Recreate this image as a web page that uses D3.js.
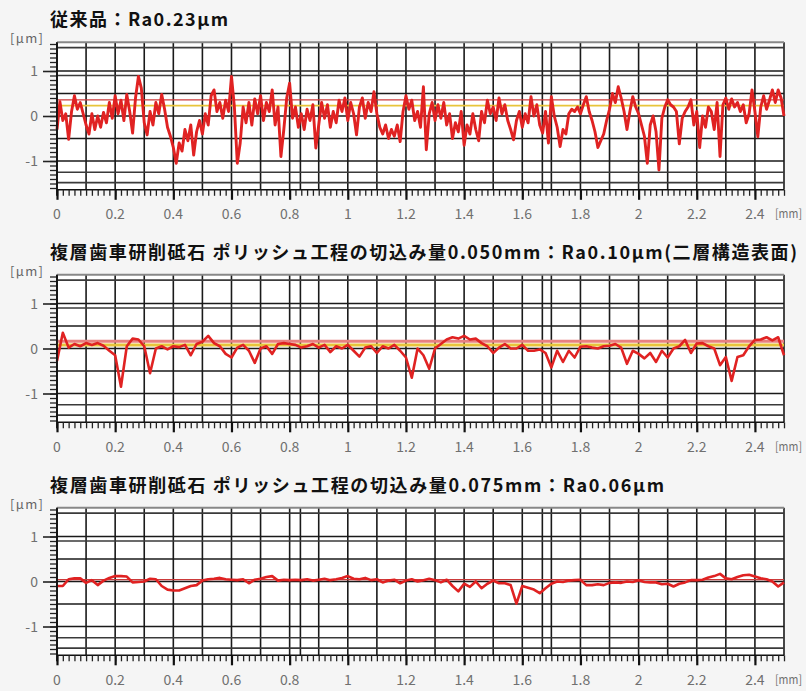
<!DOCTYPE html>
<html>
<head>
<meta charset="utf-8">
<script src="https://cdn.jsdelivr.net/npm/d3@7"></script>
<style>
body { margin: 0; background: #f5f5f5; }
svg { display: block; }
</style>
</head>
<body>
<div id="chart"></div>
<script>

// panel titles
var titles = [
	'従来品：Ra0.23μm',
	'複層歯車研削砥石 ポリッシュ工程の切込み量0.050mm：Ra0.10μm(二層構造表面)',
	'複層歯車研削砥石 ポリッシュ工程の切込み量0.075mm：Ra0.06μm'
];

// x axis labels [mm] and y axis labels [μm]
var xTickLabels = ['0', '0.2', '0.4', '0.6', '0.8', '1', '1.2', '1.4', '1.6', '1.8', '2', '2.2', '2.4'];
var yTickLabels = ['1', '0', '-1'];
var xMax = 2.5;

// profile heights [μm], evenly sampled from 0 to 2.5 mm
var profile1 = [
	-0.30, 0.32, -0.10, 0.05, -0.52, 0.10, 0.45, 0.15, 0.30, 0.05, -0.20,
	-0.40, 0.05, -0.30, 0.00, -0.25, 0.08, -0.15, 0.30, -0.05, 0.45,
	0.05, 0.35, -0.10, 0.48, 0.10, -0.38, 0.40, 0.88, 0.62, -0.15,
	-0.42, 0.10, -0.20, 0.30, 0.05, 0.48, 0.15, -0.25, -0.45, -0.70,
	-1.05, -0.60, -0.78, -0.30, -0.55, -0.20, -0.87, -0.35, -0.10, -0.40,
	0.05, -0.20, 0.45, 0.58, 0.10, 0.30, -0.05, 0.35, 0.10, 0.88,
	0.20, -1.05, -0.60, 0.20, -0.15, 0.30, -0.20, 0.38, 0.05, 0.45,
	-0.10, 0.30, 0.10, 0.58, -0.20, 0.20, -0.90, -0.30, 0.40, 0.73,
	-0.05, 0.20, -0.25, 0.05, -0.30, 0.15, -0.10, 0.25, -0.71, -0.20,
	0.30, -0.05, 0.25, -0.25, 0.10, -0.15, 0.35, 0.10, 0.40, -0.10,
	0.30, 0.05, -0.42, 0.20, 0.40, -0.05, 0.30, 0.10, 0.54, 0.05,
	-0.25, -0.40, -0.20, -0.50, -0.30, -0.45, -0.20, -0.57, 0.10, 0.45,
	0.15, 0.35, -0.10, 0.10, -0.25, 0.65, -0.75, 0.05, 0.30, -0.10,
	0.25, -0.05, 0.30, -0.20, 0.05, -0.50, -0.15, -0.35, 0.10, -0.65,
	-0.20, -0.40, 0.05, -0.30, -0.55, 0.10, -0.15, 0.35, 0.05, 0.20,
	-0.10, 0.40, 0.05, 0.25, -0.10, -0.30, -0.53, -0.10, 0.10, -0.25,
	0.05, -0.15, 0.43, 0.00, 0.25, -0.20, -0.38, 0.10, -0.60, 0.43,
	0.00, -0.25, -0.68, -0.30, -0.40, 0.05, 0.15, 0.10, 0.20, 0.05,
	0.25, 0.43, 0.10, -0.10, -0.35, -0.70, -0.55, -0.40, -0.10, 0.15,
	0.50, 0.30, 0.65, 0.40, 0.10, -0.30, 0.10, 0.43, 0.20, 0.05,
	-0.20, -0.45, -1.05, -0.20, 0.00, -0.35, -1.20, -0.05, 0.20, 0.36,
	0.25, 0.20, 0.10, -0.62, -0.05, 0.10, 0.20, 0.36, -0.20, 0.10,
	-0.70, 0.00, -0.25, 0.20, 0.10, -0.30, 0.30, -0.90, 0.25, 0.40,
	0.15, 0.38, 0.20, 0.30, 0.10, 0.25, -0.15, 0.05, 0.58, 0.10,
	-0.46, 0.20, 0.45, 0.15, 0.35, 0.58, 0.30, 0.58, 0.40, 0.00
];

var profile2 = [
	-0.28, 0.35, 0.02, 0.10, 0.05, 0.12, 0.08, 0.12, 0.06, -0.05,
	-0.15, -0.85, 0.05, 0.22, 0.20, 0.05, -0.55, 0.00, 0.05, -0.02,
	0.05, 0.03, 0.08, -0.15, 0.10, 0.15, 0.28, 0.12, 0.05, -0.12,
	-0.20, 0.02, 0.08, -0.05, -0.32, 0.00, 0.05, -0.12, 0.10, 0.12,
	0.10, 0.08, 0.02, 0.05, 0.10, 0.02, 0.08, -0.08, 0.05, 0.00,
	0.08, -0.05, -0.18, 0.02, 0.05, -0.10, 0.05, 0.00, 0.08, -0.05,
	-0.20, -0.65, 0.00, -0.15, -0.45, 0.00, 0.10, 0.20, 0.25, 0.22,
	0.28, 0.20, 0.22, 0.12, 0.05, -0.10, 0.02, 0.10, 0.00, 0.00,
	0.08, -0.05, -0.05, -0.02, -0.10, -0.42, -0.05, -0.30, -0.05, -0.20,
	0.04, 0.05, 0.02, 0.00, 0.05, 0.06, 0.10, 0.02, -0.34, -0.05,
	-0.12, -0.22, -0.10, -0.30, -0.05, -0.20, 0.00, 0.05, 0.19, -0.10,
	0.11, 0.12, 0.05, 0.00, -0.37, -0.19, -0.72, -0.19, -0.15, 0.05,
	0.19, 0.20, 0.25, 0.18, 0.25, -0.15
];

var profile3 = [
	-0.10, -0.10, 0.05, 0.07, 0.07, -0.03, 0.03, -0.08, 0.02, 0.08,
	0.12, 0.12, 0.11, -0.02, -0.01, 0.00, 0.06, 0.05, -0.10, -0.18,
	-0.20, -0.20, -0.15, -0.10, -0.08, 0.02, 0.05, 0.06, 0.08, 0.05,
	0.04, 0.03, 0.05, -0.04, 0.04, 0.06, 0.10, 0.12, 0.02, 0.04,
	0.03, 0.04, 0.03, 0.05, 0.02, 0.04, 0.06, 0.03, 0.05, 0.08,
	0.12, 0.06, 0.05, 0.08, 0.03, 0.05, -0.02, 0.02, 0.04, -0.04,
	0.02, 0.05, 0.00, 0.03, 0.06, 0.03, -0.02, 0.04, -0.10, -0.22,
	-0.05, -0.12, 0.00, -0.15, -0.05, 0.02, -0.04, -0.04, -0.08, -0.49,
	-0.10, -0.14, -0.18, -0.26, -0.15, -0.05, 0.00, -0.01, 0.02, 0.03,
	0.04, -0.08, -0.08, -0.06, -0.08, -0.03, -0.02, -0.03, 0.00, -0.01,
	0.03, -0.01, -0.02, -0.02, -0.06, -0.05, -0.11, -0.05, -0.02, 0.03,
	0.03, 0.04, 0.09, 0.12, 0.17, 0.07, 0.05, 0.10, 0.14, 0.15,
	0.11, 0.07, 0.05, 0.00, -0.11, -0.02
];

var profiles = [profile1, profile2, profile3];

// reference lines [μm] (red and yellow), null = none
var refRed = [0.36, 0.16, 0.04];
var refYellow = [0.23, 0.08, null];

// grid lines inside plot
var gridXExtra = [0.837, 1.669];
var gridY = [1.52, 1.0, 0.9, 0.5, 0, -0.5, -1.0, -1.25, -1.48];

var width = 806, height = 691;
var plotLeft = 57, plotRight = 784;
var zeroY = [116, 348.5, 581.5];
var halfH = 73.8;
var titleWidths = [178, 747, 614];

var svg = d3.select('#chart')
	.append('svg')
	.attr('width', width)
	.attr('height', height);

var font = '"Noto Sans CJK JP", "Noto Sans", sans-serif';

var x = d3.scaleLinear().domain([0, xMax]).range([plotLeft, plotRight]);

function drawPanel(p) {
	var z = zeroY[p];
	var y = d3.scaleLinear().domain([-1.64, 1.64]).range([z + halfH, z - halfH]);
	var g = svg.append('g');
	var top = y(1.64), bottom = y(-1.64);

	// title
	g.append('text')
		.attr('x', 50)
		.attr('y', z - 90)
		.attr('font-family', font)
		.attr('font-weight', 700)
		.attr('font-size', 18)
		.attr('fill', '#111')
		.attr('textLength', titleWidths[p])
		.attr('lengthAdjust', 'spacing')
		.text(titles[p]);

	// unit label
	g.append('text')
		.attr('x', 10)
		.attr('y', top + 1)
		.attr('font-family', font)
		.attr('font-size', 13)
		.attr('fill', '#666')
		.attr('textLength', 33)
		.attr('lengthAdjust', 'spacing')
		.text('[μm]');

	// plot background
	g.append('rect')
		.attr('x', plotLeft)
		.attr('y', top)
		.attr('width', plotRight - plotLeft)
		.attr('height', bottom - top)
		.attr('fill', '#fff');

	// vertical grid
	var vx = d3.range(0, 26).map(function(i) { return i / 10; }).concat(gridXExtra);
	g.selectAll('line.vg')
		.data(vx)
		.enter()
		.append('line')
		.attr('x1', function(d) { return x(d); })
		.attr('x2', function(d) { return x(d); })
		.attr('y1', top)
		.attr('y2', bottom)
		.attr('stroke', '#1a1a1a')
		.attr('stroke-width', 1.6);

	// horizontal grid
	g.selectAll('line.hg')
		.data(gridY)
		.enter()
		.append('line')
		.attr('x1', plotLeft)
		.attr('x2', plotRight)
		.attr('y1', function(d) { return y(d); })
		.attr('y2', function(d) { return y(d); })
		.attr('stroke', function(d) { return (d * 2) % 1 === 0 ? '#1a1a1a' : '#3a3a3a'; })
		.attr('stroke-width', 1.6);

	// frame
	g.append('line').attr('x1', plotLeft).attr('x2', plotRight).attr('y1', top).attr('y2', top)
		.attr('stroke', '#888').attr('stroke-width', 2);
	g.append('line').attr('x1', plotLeft).attr('x2', plotRight).attr('y1', bottom).attr('y2', bottom)
		.attr('stroke', '#111').attr('stroke-width', 1.6);

	// reference lines
	if (refRed[p] !== null) {
		g.append('line')
			.attr('x1', plotLeft).attr('x2', plotRight)
			.attr('y1', y(refRed[p])).attr('y2', y(refRed[p]))
			.attr('stroke', p === 1 ? '#e88080' : '#cc3a3a')
			.attr('stroke-width', p === 1 ? 3 : 1.3);
	}
	if (refYellow[p] !== null) {
		g.append('line')
			.attr('x1', plotLeft).attr('x2', plotRight)
			.attr('y1', y(refYellow[p])).attr('y2', y(refYellow[p]))
			.attr('stroke', '#e8c43a')
			.attr('stroke-width', p === 1 ? 3 : 1.6);
	}

	// profile line
	var data = profiles[p];
	var step = xMax / (data.length - 1);
	var line = d3.line()
		.x(function(d, i) { return x(i * step); })
		.y(function(d) { return y(d); });

	g.append('path')
		.datum(data)
		.attr('d', line)
		.attr('fill', 'none')
		.attr('stroke', '#e02222')
		.attr('stroke-width', p === 0 ? 2.9 : 2.6)
		.attr('stroke-linejoin', 'round');

	// bottom ticks
	var minor = d3.axisBottom(x)
		.tickValues(d3.range(0, 126).map(function(i) { return i * 0.02; }))
		.tickSize(6)
		.tickFormat('');
	var ga = g.append('g').attr('transform', 'translate(0,' + bottom + ')').call(minor);
	ga.select('.domain').remove();
	ga.selectAll('line').attr('stroke', '#222').attr('stroke-width', 1.3);

	var major = d3.axisBottom(x)
		.tickValues(xTickLabels.map(Number))
		.tickSize(10)
		.tickFormat('');
	var gb = g.append('g').attr('transform', 'translate(0,' + bottom + ')').call(major);
	gb.select('.domain').remove();
	gb.selectAll('line').attr('stroke', '#111').attr('stroke-width', 2.2);

	// left ticks
	var yMinor = d3.axisLeft(y)
		.tickValues(d3.range(-16, 17).map(function(i) { return i / 10; }))
		.tickSize(7)
		.tickFormat('');
	var gc = g.append('g').attr('transform', 'translate(' + plotLeft + ',0)').call(yMinor);
	gc.select('.domain').remove();
	gc.selectAll('line').attr('stroke', '#222').attr('stroke-width', 1.3);

	var yMajor = d3.axisLeft(y)
		.tickValues(yTickLabels.map(Number))
		.tickSize(14)
		.tickFormat('');
	var gd = g.append('g').attr('transform', 'translate(' + plotLeft + ',0)').call(yMajor);
	gd.select('.domain').remove();
	gd.selectAll('line').attr('stroke', '#222').attr('stroke-width', 1.6);

	// left axis line
	g.append('line').attr('x1', plotLeft).attr('x2', plotLeft).attr('y1', top).attr('y2', bottom + 6)
		.attr('stroke', '#111').attr('stroke-width', 1.8);

	// y labels
	g.selectAll('text.yl')
		.data(yTickLabels)
		.enter()
		.append('text')
		.attr('x', 38)
		.attr('y', function(d) { return y(+d) + 5; })
		.attr('text-anchor', 'end')
		.attr('font-family', font)
		.attr('font-size', 14)
		.attr('fill', '#707070')
		.text(function(d) { return d; });

	// x labels
	g.selectAll('text.xl')
		.data(xTickLabels)
		.enter()
		.append('text')
		.attr('x', function(d) { return x(+d); })
		.attr('y', z + 103)
		.attr('text-anchor', 'middle')
		.attr('font-family', font)
		.attr('font-size', 14)
		.attr('fill', '#707070')
		.text(function(d) { return d; });

	g.append('text')
		.attr('x', 775)
		.attr('y', z + 102)
		.attr('font-family', font)
		.attr('font-size', 12)
		.attr('fill', '#707070')
		.attr('textLength', 27)
		.attr('lengthAdjust', 'spacingAndGlyphs')
		.text('[mm]');
}

for (var p = 0; p < 3; p++) {
	drawPanel(p);
}

</script>
</body>
</html>
